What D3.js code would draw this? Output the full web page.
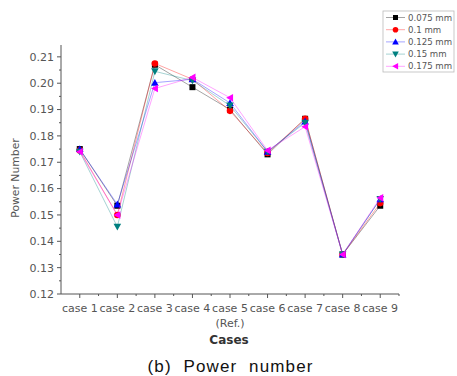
<!DOCTYPE html>
<html>
<head>
<meta charset="utf-8">
<script src="https://cdn.jsdelivr.net/npm/d3@7"></script>
<style>
  body { margin: 0; background: #fff; }
  svg { display: block; font-family: "DejaVu Sans", "Liberation Sans", Arial, sans-serif; }
</style>
</head>
<body>
<div id="chart"></div>
<script>
// data
var cases = ["case 1", "case 2", "case 3", "case 4", "case 5", "case 6", "case 7", "case 8", "case 9"];
var seriesNames = ["0.075 mm", "0.1 mm", "0.125 mm", "0.15 mm", "0.175 mm"];
var s075 = [0.1750, 0.1535, 0.2070, 0.1985, 0.1900, 0.1730, 0.1865, 0.1350, 0.1535];
var s100 = [0.1745, 0.1500, 0.2075, 0.2015, 0.1895, 0.1735, 0.1865, 0.1350, 0.1545];
var s125 = [0.1750, 0.1540, 0.2002, 0.2015, 0.1925, 0.1740, 0.1855, 0.1350, 0.1560];
var s150 = [0.1740, 0.1455, 0.2045, 0.2010, 0.1915, 0.1740, 0.1850, 0.1350, 0.1560];
var s175 = [0.1740, 0.1500, 0.1980, 0.2022, 0.1945, 0.1745, 0.1835, 0.1350, 0.1565];
var yTicks = [0.12, 0.13, 0.14, 0.15, 0.16, 0.17, 0.18, 0.19, 0.20, 0.21];

var allSeries = [s075, s100, s125, s150, s175];
var colors = ["#000000", "#ff0000", "#0000ff", "#008080", "#ff00ff"];
var shapes = ["square", "circle", "up", "down", "left"];

var W = 457, H = 376;
var svg = d3.select("#chart").append("svg").attr("width", W).attr("height", H);

var x = d3.scaleLinear().domain([0.5, 9.5]).range([61, 399]);
var y = d3.scaleLinear().domain([0.12, 0.2145]).range([294, 45]);

////////////////////// axes //////////////////////
var axisColor = "#555";
svg.append("line").attr("x1", x(0.5)).attr("x2", x(0.5)).attr("y1", y(0.2145)).attr("y2", y(0.12))
  .attr("stroke", axisColor).attr("stroke-width", 1);
svg.append("line").attr("x1", x(0.5)).attr("x2", x(9.5)).attr("y1", y(0.12)).attr("y2", y(0.12))
  .attr("stroke", axisColor).attr("stroke-width", 1);

// y ticks (major + minor)
yTicks.forEach(function(t) {
  svg.append("line").attr("x1", x(0.5) - 4).attr("x2", x(0.5)).attr("y1", y(t)).attr("y2", y(t))
    .attr("stroke", axisColor);
  svg.append("text").attr("x", x(0.5) - 7).attr("y", y(t)).attr("dy", "0.35em")
    .attr("text-anchor", "end").attr("font-size", 11).attr("fill", "#555")
    .text(t.toFixed(2));
});
d3.range(0, 10).forEach(function(i) {
  var t = 0.125 + i * 0.01;
  if (t > 0.2145) return;
  svg.append("line").attr("x1", x(0.5) - 2).attr("x2", x(0.5)).attr("y1", y(t)).attr("y2", y(t))
    .attr("stroke", axisColor);
});

// x ticks
cases.forEach(function(c, i) {
  svg.append("line").attr("x1", x(i + 1)).attr("x2", x(i + 1)).attr("y1", y(0.12)).attr("y2", y(0.12) + 4)
    .attr("stroke", axisColor);
  svg.append("line").attr("x1", x(i + 1.5)).attr("x2", x(i + 1.5)).attr("y1", y(0.12)).attr("y2", y(0.12) + 2)
    .attr("stroke", axisColor);
  svg.append("text").attr("x", x(i + 1)).attr("y", 312)
    .attr("text-anchor", "middle").attr("font-size", 11).attr("fill", "#555")
    .text(c);
});
svg.append("text").attr("x", x(5)).attr("y", 327)
  .attr("text-anchor", "middle").attr("font-size", 11).attr("fill", "#555").text("(Ref.)");

svg.append("text").attr("x", 229).attr("y", 344)
  .attr("text-anchor", "middle").attr("font-size", 12).attr("font-weight", "bold").attr("fill", "#333")
  .text("Cases");

svg.append("text").attr("transform", "translate(19,178) rotate(-90)")
  .attr("text-anchor", "middle").attr("font-size", 10.8).attr("fill", "#555")
  .text("Power Number");

svg.append("text").attr("x", 230).attr("y", 372)
  .attr("text-anchor", "middle").attr("font-size", 17)
  .attr("font-family", "'Liberation Sans', Arial, sans-serif").attr("fill", "#111")
  .style("white-space", "pre").attr("textLength", 165)
  .text("(b)  Power  number");

////////////////////// series //////////////////////
function marker(g, shape, cx, cy, col, r) {
  if (shape == "square") {
    g.append("rect").attr("x", cx - r).attr("y", cy - r).attr("width", 2 * r).attr("height", 2 * r).attr("fill", col);
  } else if (shape == "circle") {
    g.append("circle").attr("cx", cx).attr("cy", cy).attr("r", r + 0.3).attr("fill", col);
  } else {
    var s = r + 0.8, pts;
    if (shape == "up") pts = [[cx, cy - s], [cx - s, cy + s * 0.8], [cx + s, cy + s * 0.8]];
    else if (shape == "down") pts = [[cx, cy + s], [cx - s, cy - s * 0.8], [cx + s, cy - s * 0.8]];
    else pts = [[cx - s, cy], [cx + s * 0.8, cy - s], [cx + s * 0.8, cy + s]];
    g.append("polygon").attr("points", pts.map(function(p) { return p.join(","); }).join(" ")).attr("fill", col);
  }
}

var line = d3.line().x(function(d, i) { return x(i + 1); }).y(function(d) { return y(d); });

allSeries.forEach(function(vals, k) {
  var g = svg.append("g");
  g.append("path").datum(vals).attr("d", line).attr("fill", "none")
    .attr("stroke", colors[k]).attr("stroke-width", 0.8).attr("stroke-opacity", 0.45);
  vals.forEach(function(v, i) {
    marker(g, shapes[k], x(i + 1), y(v), colors[k], 3);
  });
});

////////////////////// legend //////////////////////
var lg = svg.append("g");
lg.append("rect").attr("x", 383).attr("y", 11).attr("width", 71).attr("height", 61)
  .attr("fill", "#fff").attr("stroke", "#bbb").attr("stroke-width", 0.8);
seriesNames.forEach(function(n, k) {
  var ly = 17.5 + k * 12.2;
  lg.append("line").attr("x1", 386).attr("x2", 405).attr("y1", ly).attr("y2", ly)
    .attr("stroke", colors[k]).attr("stroke-width", 0.8).attr("stroke-opacity", 0.45);
  marker(lg, shapes[k], 395.5, ly, colors[k], 2.5);
  lg.append("text").attr("x", 408).attr("y", ly).attr("dy", "0.35em")
    .attr("font-size", 8.6).attr("fill", "#555").text(n);
});
</script>
</body>
</html>
